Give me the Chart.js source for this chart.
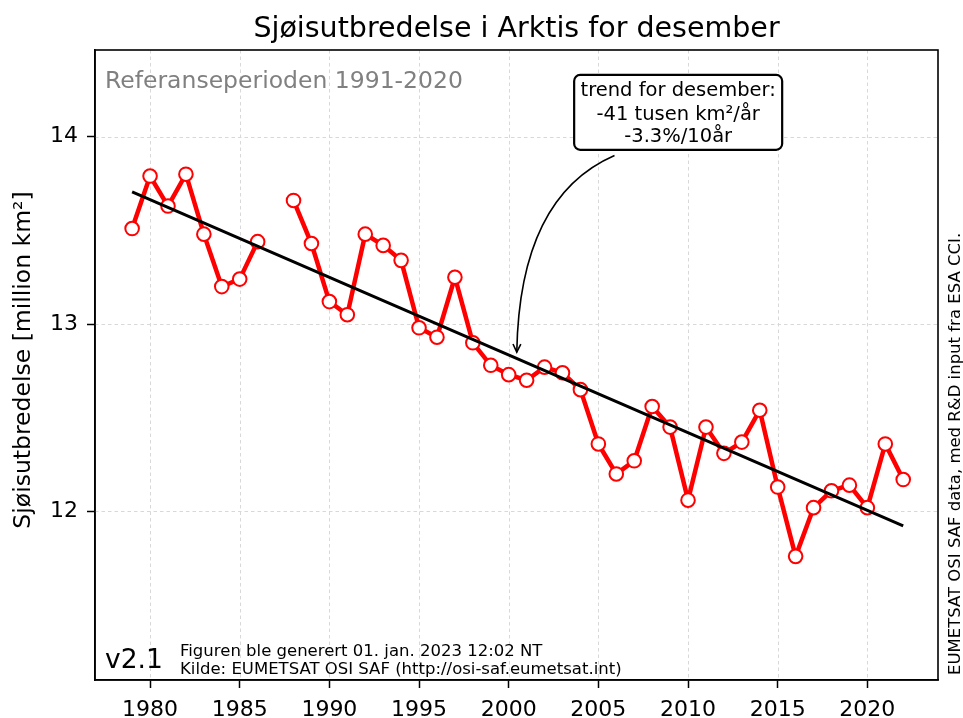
<!DOCTYPE html>
<html><head><meta charset="utf-8">
<script src="https://cdn.jsdelivr.net/npm/chart.js@4/dist/chart.umd.min.js"></script>
<style>html,body{margin:0;padding:0;background:#fff}#wrap{width:963px;height:718px}</style>
</head><body><div id="wrap"><canvas id="c" width="963" height="718"></canvas></div>
<script>
// ---- data ----
const years = [1979,1980,1981,1982,1983,1984,1985,1986,1987,1988,1989,1990,1991,1992,1993,1994,1995,1996,1997,1998,1999,2000,2001,2002,2003,2004,2005,2006,2007,2008,2009,2010,2011,2012,2013,2014,2015,2016,2017,2018,2019,2020,2021,2022];
const extent = [13.51,13.79,13.63,13.80,13.48,13.20,13.24,13.44,null,13.66,13.43,13.12,13.05,13.48,13.42,13.34,12.98,12.93,13.25,12.90,12.78,12.73,12.70,12.77,12.74,12.65,12.36,12.20,12.27,12.56,12.45,12.06,12.45,12.31,12.37,12.54,12.13,11.76,12.02,12.11,12.14,12.02,12.36,12.17];
const trendYears = [1979, 2022];
const trendValues = [13.706, 11.923];
const xTickValues = [1980,1985,1990,1995,2000,2005,2010,2015,2020];
const yTickValues = [12,13,14];

const titleText = 'Sjøisutbredelse i Arktis for desember';
const yTitleText = 'Sjøisutbredelse [million km²]';
const refText = 'Referanseperioden 1991-2020';
const annotationLines = ['trend for desember:', '-41 tusen km²/år', '-3.3%/10år'];
const versionText = 'v2.1';
const footerLines = ['Figuren ble generert 01. jan. 2023 12:02 NT', 'Kilde: EUMETSAT OSI SAF (http://osi-saf.eumetsat.int)'];
const sideText = 'EUMETSAT OSI SAF data, med R&D input fra ESA CCI.';

const FONT = '"DejaVu Sans", sans-serif';

const iceData = years.map((y, i) => ({x: y, y: extent[i]}));
const trendData = trendYears.map((y, i) => ({x: y, y: trendValues[i]}));

const dashedGrid = {
  id: 'dashedGrid',
  beforeDatasetsDraw(chart) {
    const ctx = chart.ctx, a = chart.chartArea;
    const xs = chart.scales.x, ys = chart.scales.y;
    ctx.save();
    ctx.strokeStyle = '#d8d8d8'; ctx.lineWidth = 1;
    ctx.setLineDash([3.5, 3]);
    xTickValues.forEach(v => {
      const px = Math.round(xs.getPixelForValue(v)) + 0.5;
      ctx.beginPath(); ctx.moveTo(px, a.top); ctx.lineTo(px, a.bottom); ctx.stroke();
    });
    yTickValues.forEach(v => {
      const py = Math.round(ys.getPixelForValue(v)) + 0.5;
      ctx.beginPath(); ctx.moveTo(a.left, py); ctx.lineTo(a.right, py); ctx.stroke();
    });
    ctx.restore();
  }
};

const decor = {
  id: 'decor',
  afterDraw(chart) {
    const ctx = chart.ctx, a = chart.chartArea;
    const xs = chart.scales.x, ys = chart.scales.y;
    ctx.save();
    // frame
    ctx.strokeStyle = '#000'; ctx.lineWidth = 1.6;
    ctx.strokeRect(a.left, a.top, a.right - a.left, a.bottom - a.top);
    // title
    ctx.fillStyle = '#000';
    ctx.textAlign = 'center'; ctx.textBaseline = 'alphabetic';
    ctx.font = '28.5px ' + FONT;
    ctx.fillText(titleText, (a.left + a.right) / 2, 37);
    // y title
    ctx.save();
    ctx.translate(24, 360);
    ctx.rotate(-Math.PI / 2);
    ctx.font = '23.5px ' + FONT;
    ctx.textAlign = 'center'; ctx.textBaseline = 'middle';
    ctx.fillText(yTitleText, 0, 0);
    ctx.restore();
    // side text
    ctx.save();
    ctx.translate(956, 675);
    ctx.rotate(-Math.PI / 2);
    ctx.font = '16.5px ' + FONT;
    ctx.textAlign = 'left'; ctx.textBaseline = 'middle';
    ctx.fillText(sideText, 0, 0);
    ctx.restore();
    // reference period
    ctx.textBaseline = 'alphabetic';
    ctx.font = '23.5px ' + FONT;
    ctx.fillStyle = '#808080';
    ctx.textAlign = 'left';
    ctx.fillText(refText, 105, 88);
    // version + footer
    ctx.fillStyle = '#000';
    ctx.font = '26.5px ' + FONT;
    ctx.fillText(versionText, 105, 668);
    ctx.font = '16.5px ' + FONT;
    ctx.fillText(footerLines[0], 180, 656);
    ctx.fillText(footerLines[1], 180, 674);
    // annotation arrow (quadratic curve)
    const p0 = {x: xs.getPixelForValue(2005.9), y: ys.getPixelForValue(13.90)};
    const p2 = {x: xs.getPixelForValue(2000.45), y: ys.getPixelForValue(12.85)};
    const pc = {x: xs.getPixelForValue(2000.6), y: ys.getPixelForValue(13.68)};
    ctx.strokeStyle = '#000'; ctx.lineWidth = 1.6;
    ctx.beginPath();
    ctx.moveTo(p0.x, p0.y);
    ctx.quadraticCurveTo(pc.x, pc.y, p2.x, p2.y);
    ctx.stroke();
    const ang = Math.atan2(p2.y - pc.y, p2.x - pc.x);
    const hl = 9, hw = 0.45;
    ctx.beginPath();
    ctx.moveTo(p2.x - hl * Math.cos(ang - hw), p2.y - hl * Math.sin(ang - hw));
    ctx.lineTo(p2.x, p2.y);
    ctx.lineTo(p2.x - hl * Math.cos(ang + hw), p2.y - hl * Math.sin(ang + hw));
    ctx.stroke();
    // annotation box
    const bx0 = xs.getPixelForValue(2003.65), bx1 = xs.getPixelForValue(2015.25);
    const by0 = ys.getPixelForValue(14.33), by1 = ys.getPixelForValue(13.93);
    ctx.fillStyle = '#fff'; ctx.lineWidth = 2.2;
    ctx.beginPath();
    ctx.roundRect(bx0, by0, bx1 - bx0, by1 - by0, 6);
    ctx.fill(); ctx.stroke();
    ctx.fillStyle = '#000';
    ctx.font = '19.5px ' + FONT;
    ctx.textAlign = 'center';
    const cx = (bx0 + bx1) / 2;
    ctx.fillText(annotationLines[0], cx, by0 + 21);
    ctx.fillText(annotationLines[1], cx, by0 + 45);
    ctx.fillText(annotationLines[2], cx, by0 + 67);
    ctx.restore();
  }
};

new Chart(document.getElementById('c'), {
  type: 'line',
  data: {
    datasets: [
      {
        label: 'Trend', data: trendData, order: 0,
        borderColor: '#000', borderWidth: 3, pointRadius: 0, fill: false, tension: 0
      },
      {
        label: 'Sjøisutbredelse', data: iceData, order: 1, spanGaps: false,
        borderColor: '#ff0000', borderWidth: 4.5,
        pointRadius: 6.8, pointHoverRadius: 6.8,
        pointBackgroundColor: '#fff', pointBorderColor: '#ff0000', pointBorderWidth: 2,
        fill: false, tension: 0
      }
    ]
  },
  options: {
    responsive: false, animation: false, devicePixelRatio: 1,
    layout: {padding: {top: 50, right: 25, left: 0, bottom: 0}},
    plugins: {legend: {display: false}, tooltip: {enabled: false}, title: {display: false}},
    scales: {
      x: {
        type: 'linear', min: 1976.93, max: 2023.94,
        afterFit(s) { s.height = 38; },
        afterBuildTicks(s) { s.ticks = xTickValues.map(v => ({value: v})); },
        grid: {drawOnChartArea: false, tickColor: '#000', tickLength: 8, tickWidth: 1.5, tickBorderDash: []},
        border: {color: '#000', width: 1.6},
        ticks: {color: '#000', font: {family: FONT, size: 22}, padding: 9, maxRotation: 0, callback: v => String(v)}
      },
      y: {
        type: 'linear', min: 11.1, max: 14.463,
        afterFit(s) { s.width = 95; },
        afterBuildTicks(s) { s.ticks = yTickValues.map(v => ({value: v})); },
        grid: {drawOnChartArea: false, tickColor: '#000', tickLength: 8, tickWidth: 1.5, tickBorderDash: []},
        border: {color: '#000', width: 1.6},
        ticks: {color: '#000', font: {family: FONT, size: 22}, padding: 9, callback: v => String(v)}
      }
    }
  },
  plugins: [dashedGrid, decor]
});
</script></body></html>
